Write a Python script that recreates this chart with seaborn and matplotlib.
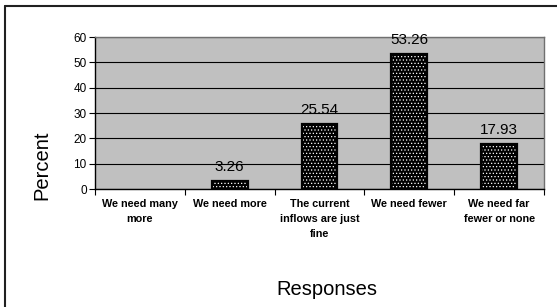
import matplotlib
matplotlib.use("Agg")
import matplotlib.pyplot as plt
from matplotlib.lines import Line2D
import seaborn as sns

# data
categories = ["We need many\nmore", "We need more", "The current\ninflows are just\nfine",
              "We need fewer", "We need far\nfewer or none"]
percents = [0.0, 3.26, 25.54, 53.26, 17.93]
value_labels = ["", "3.26", "25.54", "53.26", "17.93"]
y_ticks = [0, 10, 20, 30, 40, 50, 60]

sns.set_style("white")
plt.rcParams["font.family"] = ["Liberation Sans", "DejaVu Sans"]
plt.rcParams["hatch.linewidth"] = 0.5
for key in ["text.color", "axes.labelcolor", "xtick.color", "ytick.color"]:
    plt.rcParams[key] = "black"

fig = plt.figure(figsize=(5.57, 3.07), dpi=100)
ax = fig.add_axes([95 / 557, 1 - 189 / 307, 449 / 557, 152 / 307])
ax.set_facecolor("#c0c0c0")

# dotted fill: black face, white dots
sns.barplot(x=categories, y=percents, color="black", width=0.4, ax=ax, zorder=3)
for p in ax.patches:
    p.set_facecolor("black")
    p.set_edgecolor("white")
    p.set_hatch(".....")
    p.set_linewidth(0)
n_fill = len(ax.patches)

# black outline on top
sns.barplot(x=categories, y=percents, fill=False, width=0.4, ax=ax, zorder=4)
for p in ax.patches[n_fill:]:
    p.set_edgecolor("black")
    p.set_linewidth(1.6 if p.get_height() > 0 else 0)
    p.set_hatch(None)

# value labels
for i, (v, lab) in enumerate(zip(percents, value_labels)):
    if lab:
        ax.annotate(lab, (i, v), xytext=(0, 5), textcoords="offset points",
                    ha="center", va="bottom", fontsize=11, color="black")

ax.set_ylim(0, 60)
ax.set_xlim(-0.5, len(categories) - 0.5)
ax.set_yticks(y_ticks)
ax.yaxis.grid(True, color="black", linewidth=0.8)
ax.set_axisbelow(True)

ax.tick_params(axis="y", labelsize=8.5, length=4, width=0.8, direction="out",
               left=True, pad=2)
ax.tick_params(axis="x", which="major", length=0, labelsize=7.8, pad=7)
ax.set_xticks([i - 0.5 for i in range(len(categories) + 1)], minor=True)
ax.tick_params(axis="x", which="minor", length=4, width=0.8, direction="out",
               bottom=True)
for t in ax.get_xticklabels():
    t.set_fontweight("bold")
    t.set_linespacing(1.65)
    t.set_va("top")

for side in ["left", "bottom"]:
    ax.spines[side].set_color("black")
    ax.spines[side].set_linewidth(1.0)
for side in ["top", "right"]:
    ax.spines[side].set_color("#707070")
    ax.spines[side].set_linewidth(1.0)
    ax.spines[side].set_visible(True)

ax.set_ylabel("Percent", fontsize=14.5)
ax.yaxis.set_label_coords(-0.118, 0.158)
ax.yaxis.label.set_va("center")
ax.yaxis.label.set_ha("center")
ax.set_xlabel("Responses", fontsize=14.5)
ax.xaxis.set_label_coords(0.517, -0.664)
ax.xaxis.label.set_va("center")

# outer chart frame (top and left edges visible)
fig.add_artist(Line2D([5 / 557, 5 / 557], [0, 1 - 6 / 307], transform=fig.transFigure,
                      color="#202020", linewidth=1.5))
fig.add_artist(Line2D([5 / 557, 1], [1 - 6 / 307, 1 - 6 / 307], transform=fig.transFigure,
                      color="#202020", linewidth=1.5))

fig.savefig("out.png", dpi=100)
